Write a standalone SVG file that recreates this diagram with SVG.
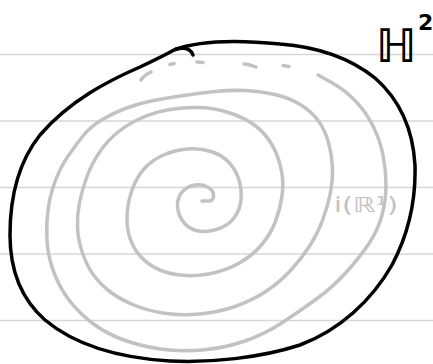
<svg xmlns="http://www.w3.org/2000/svg" width="433" height="364" viewBox="0 0 433 364">
<style>
.rule{stroke:#d6d6d6;stroke-width:1.5;fill:none}
.ink{stroke:#000;stroke-width:3.5;fill:none;stroke-linecap:round;stroke-linejoin:round}
.pencil{stroke:#c2c2c2;stroke-width:3.5;fill:none;stroke-linecap:round;stroke-linejoin:round}
.lbl{font-family:"DejaVu Sans",sans-serif}
</style>
<rect width="433" height="364" fill="#fff"/>
<g id="rules">
<line class="rule" x1="0" y1="54.5" x2="433" y2="54.5"/>
<line class="rule" x1="0" y1="121" x2="433" y2="121"/>
<line class="rule" x1="0" y1="187.5" x2="433" y2="187.5"/>
<line class="rule" x1="0" y1="254" x2="433" y2="254"/>
<line class="rule" x1="0" y1="320.5" x2="433" y2="320.5"/>
</g>
<g id="spiral">
<path class="pencil" d="M318,75 L331.5,82.5 Q345,90 355.5,101 Q366,112 373,126 Q380,140 383,155 Q386,170 386,185 Q386,200 382,215 Q378,230 369,243.5 Q360,257 346.5,272 Q333,287 316.5,299 Q300,311 282.5,322.5 Q265,334 245,341 Q225,348 202.5,350 Q180,352 160,349 Q140,346 122.5,339.5 Q105,333 91.5,322.5 Q78,312 69,300 Q60,288 54.5,274 Q49,260 47.5,246 Q46,232 47.5,215 Q49,198 54.5,183 Q60,168 67.5,157 Q75,146 82.5,136.5 Q90,127 101.5,120 Q113,113 126.5,108 Q140,103 153.5,100.5 Q167,98 183.5,95.5 Q200,93 215,91.5 Q230,90 245,90.5 Q260,91 275,94.5 Q290,98 301,105 Q312,112 318.5,121 Q325,130 328.5,142.5 Q332,155 332.5,167.5 Q333,180 330.5,192.5 Q328,205 323,219 Q318,233 310,245.5 Q302,258 291,270 Q280,282 266.5,291 Q253,300 236.5,306 Q220,312 200,314 Q180,316 162.5,313 Q145,310 131.5,304 Q118,298 109,291 Q100,284 93.5,275 Q87,266 82.5,253 Q78,240 77.5,227.5 Q77,215 79.5,202.5 Q82,190 87,176.5 Q92,163 100,151.5 Q108,140 118,132 Q128,124 141.5,118 Q155,112 170,109.5 Q185,107 200,107.5 Q215,108 230,113 Q245,118 255,125.5 Q265,133 271.5,144 Q278,155 281,168.5 Q284,182 282,196 Q280,210 275,222.5 Q270,235 261,245.5 Q252,256 238.5,263.5 Q225,271 208.5,274 Q192,277 176,274.5 Q160,272 149,264 Q138,256 132.5,244.5 Q127,233 127,219 Q127,205 131.5,191.5 Q136,178 144,169 Q152,160 163.5,155 Q175,150 187.5,149 Q200,148 211,151.5 Q222,155 229,162.5 Q236,170 239,180 Q242,190 241,200 Q240,210 234,218 Q228,226 216.5,229.5 Q205,233 196,230.5 Q187,228 182,220 Q177,212 177.5,204 Q178,196 183,191 Q188,186 195,185 Q202,184 207.5,187 Q213,190 213.5,194.5 Q214,199 210.5,201 L202,201"/>
<path class="pencil" d="M141,80 Q144,75 151,72 M170,64.5 L174,63.5 M197,62 L203,62.5 M244,64 Q250,64.5 256,67 M283,65.5 L289,66.5"/>
</g>
<g id="boundary">
<path class="ink" d="M174,50 C200,40 240,40 280,44 C320,47 350,58 375,78 C400,100 413,130 415,165 C416,200 408,235 392,265 C372,300 340,330 300,345 C260,358 210,363 170,361 C120,358 75,345 45,320 C20,298 10,268 10,235 C10,195 20,160 40,135 C70,100 110,80 140,67 C155,60 165,55 174,50 Z"/>
<path class="ink" d="M176,49 Q190,46 193,55"/>
</g>
<g id="labels">
<text class="lbl" x="376" y="62" font-size="46" font-weight="bold">ℍ<tspan x="418" y="30" font-size="22">2</tspan></text>
<text class="lbl" x="334" y="212" font-size="21" fill="#c2c2c2" textLength="64" lengthAdjust="spacingAndGlyphs">i(ℝ¹)</text>
</g>
</svg>
